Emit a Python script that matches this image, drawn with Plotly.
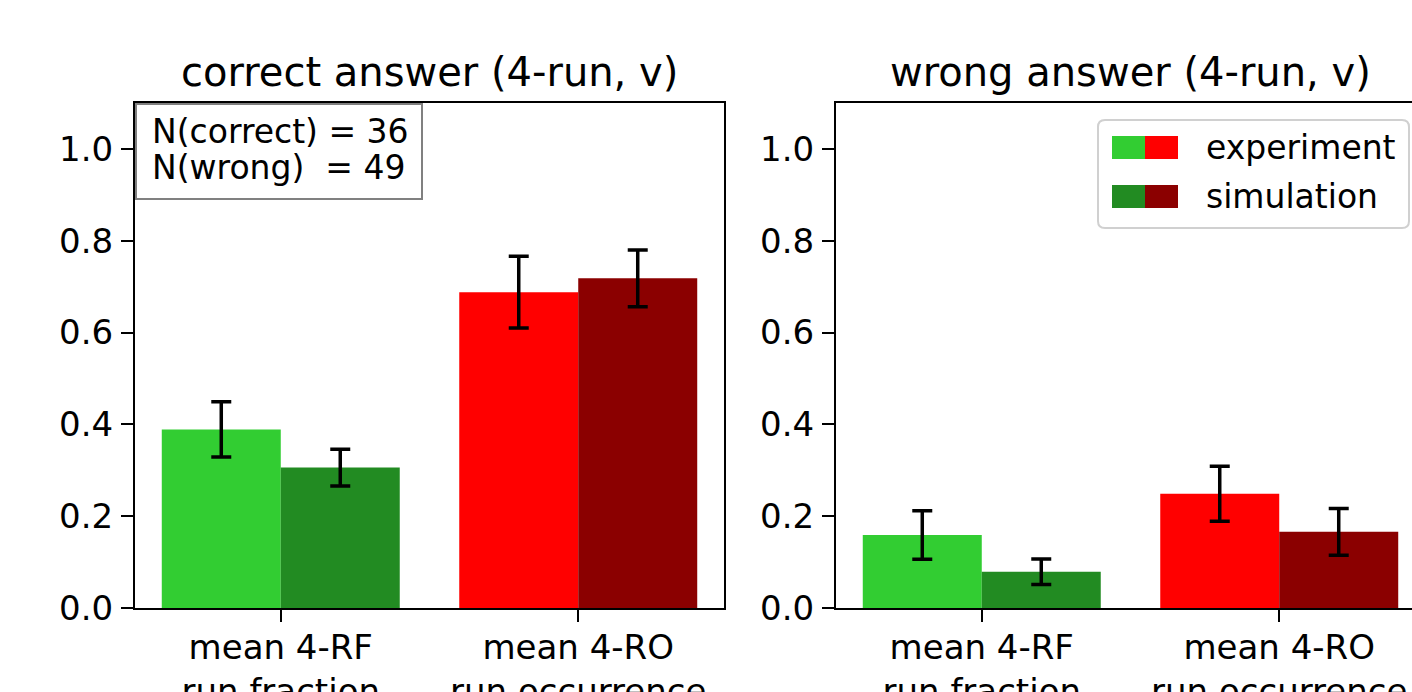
import plotly.graph_objects as go

# ---- data ----
categories = ["mean 4-RF<br>run fraction", "mean 4-RO<br>run occurrence"]
correct_exp = [0.389, 0.688]
correct_exp_err = [0.060, 0.078]
correct_sim = [0.306, 0.718]
correct_sim_err = [0.040, 0.062]
wrong_exp = [0.159, 0.249]
wrong_exp_err = [0.053, 0.060]
wrong_sim = [0.079, 0.166]
wrong_sim_err = [0.028, 0.051]
exp_colors = ["#32CD32", "#FF0000"]
sim_colors = ["#228B22", "#8B0000"]
yticks = [0.0, 0.2, 0.4, 0.6, 0.8, 1.0]
titles = ["correct answer (4-run, v)", "wrong answer (4-run, v)"]
legend_labels = ["experiment", "simulation"]
note_lines = ["N(correct) = 36", "N(wrong)\u00a0 = 49"]

W, H = 1412, 692
FONT = "DejaVu Sans"
idx = list(range(len(categories)))


def px(x):
    return x / W


def py(y):
    return 1 - y / H


fig = go.Figure()

err_style = dict(type="data", color="black", thickness=3.5, width=10, visible=True)

for (exp, exp_err, sim, sim_err, xa, ya) in [
    (correct_exp, correct_exp_err, correct_sim, correct_sim_err, "x", "y"),
    (wrong_exp, wrong_exp_err, wrong_sim, wrong_sim_err, "x2", "y2"),
]:
    fig.add_trace(go.Bar(
        x=[i - 0.2 for i in idx], y=exp, width=0.4,
        marker=dict(color=exp_colors, line=dict(width=0)),
        error_y=dict(array=exp_err, **err_style),
        xaxis=xa, yaxis=ya, showlegend=False,
    ))
    fig.add_trace(go.Bar(
        x=[i + 0.2 for i in idx], y=sim, width=0.4,
        marker=dict(color=sim_colors, line=dict(width=0)),
        error_y=dict(array=sim_err, **err_style),
        xaxis=xa, yaxis=ya, showlegend=False,
    ))

ppu = 589 / 1.98  # pixels per data unit on x
x_right_max = -0.49 + (W - 836) / ppu

common_x = dict(
    tickvals=idx, ticktext=categories, showline=True, linecolor="black", linewidth=2,
    mirror=True, ticks="outside", ticklen=12, tickwidth=2, tickcolor="black",
    showgrid=False, zeroline=False, automargin=False, ticklabelstandoff=-4,
    tickfont=dict(family=FONT, size=34, color="black"),
)
common_y = dict(
    range=[0, 1.1], tickvals=yticks, tickformat=".1f", showline=True, linecolor="black",
    linewidth=2, ticks="outside", ticklen=12, tickwidth=2, tickcolor="black",
    showgrid=False, zeroline=False, automargin=False, ticklabelstandoff=1,
    tickfont=dict(family=FONT, size=34, color="black"),
)

y_dom = [py(608), py(103)]

fig.update_layout(
    width=W, height=H,
    margin=dict(l=0, r=0, t=0, b=0),
    paper_bgcolor="white", plot_bgcolor="white",
    barmode="overlay", showlegend=False,
    xaxis=dict(domain=[px(135), px(724)], range=[-0.49, 1.49], anchor="y", **common_x),
    yaxis=dict(domain=y_dom, anchor="x", mirror=True, **common_y),
    xaxis2=dict(domain=[px(836), 1.0], range=[-0.49, x_right_max], anchor="y2", **common_x),
    yaxis2=dict(domain=y_dom, anchor="x2", mirror=False, **common_y),
    font=dict(family=FONT, color="black"),
)

annotations = []
# titles
for t, cx in zip(titles, [429.5, 1130.5]):
    annotations.append(dict(
        text=t, x=px(cx), y=py(72), xref="paper", yref="paper",
        xanchor="center", yanchor="middle", showarrow=False,
        font=dict(family=FONT, size=40, color="black"),
    ))
# N box text
for line, cy in zip(note_lines, [132, 167]):
    annotations.append(dict(
        text=line, x=px(150), y=py(cy), xref="paper", yref="paper",
        xanchor="left", yanchor="middle", showarrow=False,
        font=dict(family=FONT, size=33, color="black"),
    ))
# legend text
for lab, cy in zip(legend_labels, [148, 196]):
    annotations.append(dict(
        text=lab, x=px(1204), y=py(cy), xref="paper", yref="paper",
        xanchor="left", yanchor="middle", showarrow=False,
        font=dict(family=FONT, size=33, color="black"),
    ))
fig.update_layout(annotations=annotations)

shapes = []
# N box
shapes.append(dict(
    type="rect", xref="paper", yref="paper",
    x0=px(136), x1=px(422), y0=py(199), y1=py(104),
    line=dict(color="#808080", width=2), fillcolor="white",
))


def rounded_path(x0, y0, x1, y1, r):
    def P(x, y):
        return f"{px(x):.6f},{py(y):.6f}"
    return (
        f"M {P(x0 + r, y0)} L {P(x1 - r, y0)} Q {P(x1, y0)} {P(x1, y0 + r)} "
        f"L {P(x1, y1 - r)} Q {P(x1, y1)} {P(x1 - r, y1)} "
        f"L {P(x0 + r, y1)} Q {P(x0, y1)} {P(x0, y1 - r)} "
        f"L {P(x0, y0 + r)} Q {P(x0, y0)} {P(x0 + r, y0)} Z"
    )


shapes.append(dict(
    type="path", xref="paper", yref="paper",
    path=rounded_path(1098, 120, 1409, 228, 7),
    line=dict(color="#d0d0d0", width=2), fillcolor="white",
))
# legend patches (two-colour handles)
for row, (top, bot) in enumerate([(136, 159), (185, 208)]):
    cols = [exp_colors, sim_colors][row]
    shapes.append(dict(type="rect", xref="paper", yref="paper",
                       x0=px(1112), x1=px(1145), y0=py(bot), y1=py(top),
                       line=dict(width=0), fillcolor=cols[0]))
    shapes.append(dict(type="rect", xref="paper", yref="paper",
                       x0=px(1145), x1=px(1178), y0=py(bot), y1=py(top),
                       line=dict(width=0), fillcolor=cols[1]))
fig.update_layout(shapes=shapes)

fig.write_html(
    "out.html",
    config={"displayModeBar": False},
    post_script="document.body.style.margin='0';document.body.style.overflow='hidden';",
)
